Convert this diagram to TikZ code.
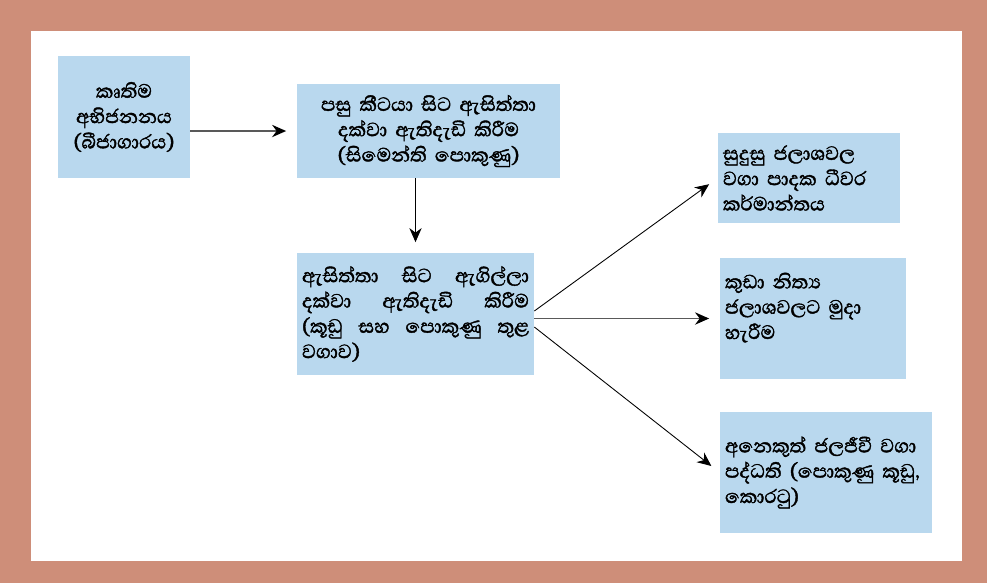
\documentclass[tikz,border=0pt]{standalone}
\usepackage{fontspec}
\usepackage{tikz}
\usetikzlibrary{arrows.meta,positioning}
\newfontfamily\sinfont[Script=Sinhala,WordSpace=1.4,AutoFakeBold=1.6]{Abhaya Libre}
\definecolor{framebrown}{RGB}{206,142,121}
\definecolor{boxblue}{RGB}{185,216,238}

\begin{document}
\begin{tikzpicture}[x=0.02cm,y=-0.02cm,>={Stealth[length=8pt,width=7pt,color=black]},
                    box node/.style={fill=boxblue,inner xsep=0.1cm,inner ysep=0pt,
                      font=\sinfont\bfseries\fontsize{14}{14.4}\selectfont},
                    thin arrow/.style={->,line width=0.5pt,shorten >=6pt},
                    grey arrow/.style={->,line width=1pt,draw=black!65,shorten >=6pt}]

  \fill[framebrown] (0,0) rectangle (987,583);
  \fill[white] (31,31) rectangle (962,561);

  \node[box node,text width=2.44cm,minimum height=2.44cm,align=center] (1) at (124,117)
    {කෘතිම\\අභිජනනය\\(බීජාගාරය)};
  \node[box node,text width=5.06cm,minimum height=1.88cm,align=center] (2) at (428.5,131)
    {පසු කීටයා සිට ඇසිත්තා\\දක්වා ඇතිදැඩි කිරීම\\(සිමෙන්ති පොකුණු)};
  \node[box node,text width=4.54cm,minimum height=2.44cm,align=justify] (3) at (415.5,314)
    {ඇසිත්තා සිට ඇගිල්ලා\linebreak දක්වා ඇතිදැඩි කිරීම\linebreak (කූඩු සහ පොකුණු තුළ\linebreak වගාව)};
  \node[box node,text width=3.44cm,minimum height=1.80cm,align=left] (4) at (809,178)
    {සුදුසු ජලාශවල\\වගා පාදක ධීවර\\කර්මාන්තය};
  \node[box node,text width=3.52cm,minimum height=2.42cm,align=left] (5) at (813,318.5)
    {කුඩා නිත්‍ය\\ජලාශවලට මුදා\\හැරීම\\\mbox{}};
  \node[box node,text width=4.04cm,minimum height=2.42cm,align=left] (6) at (826,472.5)
    {අනෙකුත් ජලජීවී වගා\\පද්ධති (පොකුණු කූඩු,\\කොරටු)};

  \draw[grey arrow] (2.west -| 1.east) -- (2.west);
  \draw[thin arrow] (3.north |- 2.south) -- (3.north);
  \draw[thin arrow] ([yshift=0.06cm]3.east) -- (4.west);
  \draw[grey arrow] (5.west -| 3.east) -- (5.west);
  \draw[thin arrow] ([yshift=-0.26cm]3.east) -- (6.west);
\end{tikzpicture}
\end{document}
